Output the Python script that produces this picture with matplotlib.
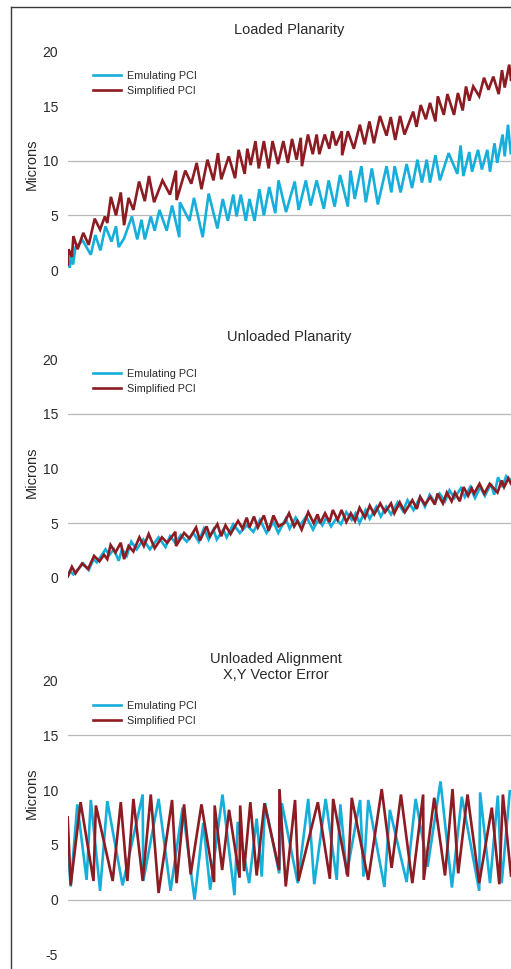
import matplotlib
matplotlib.use("Agg")
import matplotlib.pyplot as plt
from matplotlib.lines import Line2D

plt.rcParams['font.family'] = ['Liberation Sans', 'DejaVu Sans']

EMU_COLOR = '#16AEDA'
SIMP_COLOR = '#8C1B22'
TEXT_COLOR = '#2a2a2a'
GRID_COLOR = '#b8b8b8'

series_labels = ['Emulating PCI', 'Simplified PCI']

# ---------------- Loaded Planarity ----------------
lp_emu_x = [0, 0.7, 1.1, 1.8, 2.6, 5.0, 7.7, 9.2, 10.9, 12.6,
            14.6, 16.1, 17.0, 18.8, 21.4, 23.2, 24.6, 25.7, 27.7, 29.0,
            30.6, 33.0, 34.8, 37.2, 37.4, 40.6, 42.1, 45.0, 47.0, 49.9,
            51.7, 53.4, 55.2, 56.3, 57.7, 59.4, 60.6, 62.3, 63.9, 65.4,
            67.2, 69.2, 70.3, 72.8, 75.7, 77.0, 79.4, 81.0, 83.0, 85.4,
            87.0, 89.0, 90.8, 93.4, 94.3, 95.7, 97.9, 99.4, 101.4, 103.4,
            106.3, 107.9, 109.0, 111.0, 113.0, 114.8, 116.6, 118.1, 119.7, 120.8,
            122.6, 124.1, 127.0, 129.9, 131.0, 131.9, 133.9, 134.8, 136.8, 138.1,
            139.9, 140.8, 142.3, 143.2, 145.0, 145.7, 146.8, 147.7]
lp_emu_y = [0.9, 0.2, 1.3, 0.5, 2.1, 2.7, 1.4, 3.2, 1.8, 4.0,
            2.6, 4.0, 2.1, 2.9, 4.9, 2.8, 4.6, 2.8, 4.9, 3.6,
            5.5, 3.6, 5.9, 3.0, 6.2, 4.5, 6.6, 3.0, 7.0, 3.8,
            6.5, 4.5, 6.9, 4.9, 6.9, 4.5, 6.5, 4.5, 7.4, 5.0,
            7.6, 5.2, 8.2, 5.3, 8.1, 5.5, 8.2, 5.9, 8.2, 5.6,
            8.2, 5.8, 8.7, 5.8, 9.1, 6.5, 9.5, 6.2, 9.3, 6.0,
            9.5, 7.1, 9.5, 7.1, 9.7, 7.5, 10.1, 8.0, 10.1, 8.0,
            10.5, 8.2, 10.7, 8.8, 11.4, 8.6, 10.8, 9.0, 11.0, 9.2,
            11.0, 9.0, 11.6, 9.8, 12.4, 10.4, 13.3, 10.7]

lp_simp_x = [0, 0.3, 1.4, 1.9, 3.3, 5.2, 7.0, 9.0, 10.8, 12.4,
             13.2, 14.4, 16.1, 17.7, 18.8, 20.3, 21.9, 23.8, 25.7, 27.1,
             28.8, 31.6, 34.1, 36.1, 36.3, 39.2, 41.2, 43.0, 44.6, 46.6,
             48.6, 50.1, 51.2, 53.7, 55.8, 57.0, 59.0, 59.9, 61.0, 62.6,
             63.7, 65.4, 67.0, 68.3, 70.1, 71.9, 73.4, 74.8, 76.3, 77.7,
             78.1, 80.1, 81.7, 83.0, 83.9, 85.7, 87.2, 88.3, 89.4, 91.4,
             91.5, 93.4, 95.4, 97.4, 99.0, 100.6, 102.1, 104.1, 106.3, 107.7,
             109.2, 110.8, 112.3, 115.2, 116.3, 117.7, 119.4, 120.8, 122.6, 123.4,
             125.4, 126.6, 128.8, 130.1, 131.7, 132.8, 133.9, 135.2, 137.2, 138.8,
             140.3, 141.9, 143.7, 144.8, 145.7, 147.2, 147.8]
lp_simp_y = [0.5, 1.9, 1.2, 3.1, 1.9, 3.4, 2.3, 4.7, 3.7, 4.9,
             4.3, 6.7, 5.0, 7.1, 4.1, 6.6, 5.5, 8.1, 6.3, 8.6,
             6.2, 8.2, 6.9, 9.1, 6.4, 9.1, 7.9, 9.8, 7.4, 10.1,
             8.2, 10.7, 8.3, 10.4, 8.4, 11.0, 8.8, 11.1, 9.6, 11.8,
             9.3, 11.8, 9.3, 11.8, 9.7, 11.8, 9.8, 12.0, 10.1, 12.1,
             9.5, 12.4, 10.6, 12.4, 10.6, 12.4, 11.1, 12.7, 11.4, 12.7,
             10.5, 12.7, 11.1, 13.3, 11.5, 13.6, 11.6, 14.1, 12.3, 14.0,
             11.9, 14.1, 12.4, 14.5, 13.1, 15.1, 13.8, 15.3, 13.6, 15.9,
             14.2, 16.1, 14.2, 16.2, 14.6, 16.8, 15.5, 16.8, 15.9, 17.6,
             16.5, 17.7, 16.1, 18.3, 16.7, 18.8, 17.4]

# ---------------- Unloaded Planarity ----------------
up_emu_x = [0, 0.8, 1.9, 5.2, 7.0, 8.6, 9.7, 12.6, 13.9, 15.4,
            17.0, 18.1, 19.7, 21.2, 23.0, 25.2, 27.4, 30.3, 32.6, 34.1,
            35.9, 37.7, 39.7, 41.9, 43.7, 45.4, 47.0, 48.6, 49.7, 51.9,
            53.0, 55.2, 57.4, 59.7, 61.9, 64.1, 66.3, 68.6, 70.2, 72.7,
            74.0, 76.0, 77.5, 79.5, 81.8, 83.5, 84.9, 86.2, 87.8, 89.5,
            91.1, 92.9, 94.7, 96.0, 97.3, 99.3, 100.7, 102.9, 104.4, 106.2,
            107.8, 110.0, 111.8, 113.3, 115.3, 117.5, 119.1, 120.7, 122.4, 124.0,
            125.8, 127.3, 128.9, 131.1, 132.4, 134.2, 135.8, 137.5, 139.1, 141.1,
            142.2, 143.5, 144.9, 146.2, 147.8]
up_emu_y = [0.1, 0.6, 0.3, 1.3, 0.7, 1.7, 1.4, 2.6, 2.1, 2.6,
            1.55, 2.6, 2.0, 3.3, 2.6, 3.5, 2.6, 3.7, 2.8, 3.8,
            3.2, 3.9, 3.3, 4.1, 3.3, 4.5, 3.5, 4.4, 3.5, 4.4,
            3.7, 4.9, 4.1, 4.8, 4.2, 5.3, 4.1, 5.1, 4.1, 5.4,
            4.5, 5.5, 4.8, 5.6, 4.4, 5.3, 4.8, 5.5, 4.7, 5.4,
            4.9, 6.0, 5.3, 5.9, 5.0, 6.2, 5.4, 6.5, 5.6, 6.5,
            5.8, 6.9, 6.1, 7.1, 6.2, 7.4, 6.5, 7.6, 6.9, 7.7,
            7.0, 8.0, 7.3, 8.2, 7.4, 8.3, 7.3, 8.3, 7.5, 8.6,
            7.6, 9.2, 8.3, 9.3, 8.9]

up_simp_x = [0, 1.4, 2.6, 4.8, 6.8, 8.8, 10.6, 12.1, 13.2, 14.3,
             15.9, 17.7, 18.8, 20.3, 21.9, 23.9, 25.4, 27.0, 29.0, 31.4,
             33.2, 35.9, 36.1, 38.8, 40.6, 42.8, 44.1, 46.3, 47.4, 49.9,
             51.2, 52.6, 54.3, 56.8, 58.3, 59.7, 60.6, 62.1, 63.4, 65.4,
             67.0, 68.6, 70.3, 72.2, 73.8, 75.5, 76.6, 78.0, 80.2, 82.0,
             83.3, 84.2, 85.8, 87.3, 88.4, 90.0, 91.3, 92.9, 94.4, 95.8,
             97.3, 99.1, 100.7, 102.2, 104.2, 105.8, 107.8, 108.9, 110.7, 112.4,
             114.9, 116.4, 117.5, 119.1, 120.9, 122.4, 123.3, 125.1, 126.4, 128.0,
             129.1, 130.7, 132.0, 133.5, 134.7, 135.5, 137.3, 138.9, 140.7, 143.3,
             144.7, 145.5, 146.9, 147.8]
up_simp_y = [0.1, 1.0, 0.4, 1.3, 0.8, 2.0, 1.5, 2.1, 1.7, 3.0,
             2.3, 3.2, 1.7, 2.9, 2.4, 3.7, 2.9, 4.0, 2.7, 3.7,
             3.2, 4.2, 2.9, 4.1, 3.6, 4.6, 3.4, 4.7, 3.8, 4.9,
             3.8, 4.8, 4.0, 5.2, 4.5, 5.5, 4.6, 5.6, 4.6, 5.7,
             4.3, 5.7, 4.7, 5.0, 5.9, 4.7, 5.2, 4.4, 6.0, 5.0,
             5.8, 5.0, 5.9, 5.1, 6.2, 5.3, 6.2, 5.1, 5.9, 5.2,
             6.4, 5.5, 6.6, 5.8, 6.8, 6.0, 6.8, 5.9, 6.9, 6.0,
             7.1, 6.3, 7.4, 6.7, 7.4, 6.7, 7.7, 6.8, 7.8, 7.0,
             7.8, 7.0, 8.3, 7.5, 8.2, 7.7, 8.6, 7.7, 8.6, 7.8,
             8.9, 8.3, 9.1, 8.6]

# ---------------- Unloaded Alignment X,Y Vector Error ----------------
ua_emu_x = [0, 1.0, 3.2, 6.3, 7.7, 10.8, 13.2, 18.3, 25.0, 25.2,
            30.3, 34.3, 38.3, 42.3, 45.2, 47.5, 51.6, 55.6, 56.7, 60.5,
            63.0, 64.7, 65.8, 70.5, 71.4, 76.7, 80.2, 82.2, 86.0, 89.7,
            90.9, 93.0, 97.5, 98.6, 100.2, 105.6, 107.4, 113.0, 116.0, 120.0,
            124.3, 128.1, 131.4, 137.2, 137.5, 140.8, 143.4, 144.7, 147.4]
ua_emu_y = [4.9, 1.2, 8.7, 1.8, 9.1, 0.8, 9.0, 1.3, 9.6, 1.7,
            9.2, 0.8, 8.4, 0.0, 7.0, 0.9, 9.6, 0.4, 7.1, 1.5,
            7.4, 2.1, 8.8, 2.4, 8.8, 1.5, 9.2, 1.4, 9.2, 1.8,
            8.7, 2.3, 9.1, 2.1, 9.1, 1.15, 8.2, 1.6, 9.2, 3.0,
            10.8, 1.1, 9.4, 0.8, 9.8, 1.5, 9.5, 1.5, 9.9]

ua_simp_x = [0, 1.0, 4.3, 8.6, 9.4, 15.0, 17.7, 19.9, 21.9, 25.0,
             27.7, 30.3, 34.8, 36.3, 38.8, 41.0, 44.6, 48.8, 49.0, 51.5,
             53.8, 57.3, 57.5, 58.8, 60.9, 63.0, 65.6, 70.5, 70.6, 72.7,
             75.8, 76.9, 83.4, 87.4, 88.5, 93.4, 94.7, 100.2, 104.7, 108.0,
             111.1, 114.9, 118.5, 118.7, 122.2, 125.8, 128.3, 130.2, 133.3, 137.2,
             141.4, 143.9, 145.1, 147.8]
ua_simp_y = [7.5, 1.3, 8.9, 1.7, 8.6, 1.7, 8.9, 1.7, 9.2, 1.7,
             9.6, 0.6, 9.1, 1.5, 8.7, 2.3, 8.7, 1.6, 8.6, 2.7,
             8.2, 2.0, 8.6, 2.6, 8.9, 2.2, 8.8, 2.7, 10.1, 1.2,
             9.1, 1.7, 8.9, 1.9, 9.2, 2.1, 9.3, 1.8, 10.1, 2.9,
             9.6, 1.5, 9.6, 1.8, 9.3, 2.2, 10.1, 2.4, 9.6, 1.5,
             8.4, 1.4, 9.6, 2.2]

titles = ['Loaded Planarity', 'Unloaded Planarity', 'Unloaded Alignment\nX,Y Vector Error']
y_ticks = [[0, 5, 10, 15, 20], [0, 5, 10, 15, 20], [-5, 0, 5, 10, 15, 20]]
grid_levels = [[5, 10], [5, 15], [0, 15]]
y_label = 'Microns'

W, H = 511, 969
fig = plt.figure(figsize=(W / 100, H / 100), dpi=100)

x_left_px = 67.7
x_right = 147.8
# (top px of highest tick, bottom px of lowest tick)
panel_px = [(51.5, 270.0), (359.3, 577.7), (680.7, 954.3)]
title_y = [1.098, 1.10, 1.050]
title_x = [0.5, 0.5, 0.47]
legend_y = [0.911, 0.955, 0.927]
ylabel_y = [0.485, 0.482, 0.59]

data = [
    ((lp_emu_x, lp_emu_y), (lp_simp_x, lp_simp_y)),
    ((up_emu_x, up_emu_y), (up_simp_x, up_simp_y)),
    ((ua_emu_x, ua_emu_y), (ua_simp_x, ua_simp_y)),
]

for i, ((ex, ey), (sx, sy)) in enumerate(data):
    top, bot = panel_px[i]
    ax = fig.add_axes([x_left_px / W, 1 - bot / H, 1 - x_left_px / W, (bot - top) / H])
    ax.set_facecolor('none')
    for g in grid_levels[i]:
        ax.axhline(g, color=GRID_COLOR, lw=0.9, zorder=1)
    l1, = ax.plot(ex, ey, color=EMU_COLOR, lw=1.9, zorder=3, solid_joinstyle='miter')
    l2, = ax.plot(sx, sy, color=SIMP_COLOR, lw=1.9, zorder=4, solid_joinstyle='miter')
    ax.set_xlim(0, x_right)
    ax.set_ylim(y_ticks[i][0], y_ticks[i][-1])
    ax.set_yticks(y_ticks[i])
    ax.set_yticklabels([str(t) for t in y_ticks[i]])
    ax.tick_params(axis='y', length=0, pad=7, labelsize=10, labelcolor=TEXT_COLOR)
    ax.set_xticks([])
    for s in ax.spines.values():
        s.set_visible(False)
    ax.set_ylabel(y_label, fontsize=10.5, color=TEXT_COLOR)
    ax.yaxis.set_label_coords(-0.065, ylabel_y[i])
    ax.text(title_x[i], title_y[i], titles[i], transform=ax.transAxes, ha='center', va='center',
            fontsize=10.5, color=TEXT_COLOR, linespacing=1.2)
    ax.legend([l1, l2], series_labels, loc='upper left', bbox_to_anchor=(0.056, legend_y[i]),
              frameon=False, fontsize=7.8, handlelength=2.66, handletextpad=0.55,
              labelspacing=0.45, borderpad=0, borderaxespad=0, labelcolor=TEXT_COLOR)

# frame lines (left and top border)
fig.add_artist(Line2D([10.7 / W, 10.7 / W], [0, 1 - 7.3 / H], transform=fig.transFigure,
                      color='#3a3a3a', lw=1.0))
fig.add_artist(Line2D([10.7 / W, 1], [1 - 7.3 / H, 1 - 7.3 / H], transform=fig.transFigure,
                      color='#3a3a3a', lw=1.0))

fig.savefig('out.png', dpi=100)
